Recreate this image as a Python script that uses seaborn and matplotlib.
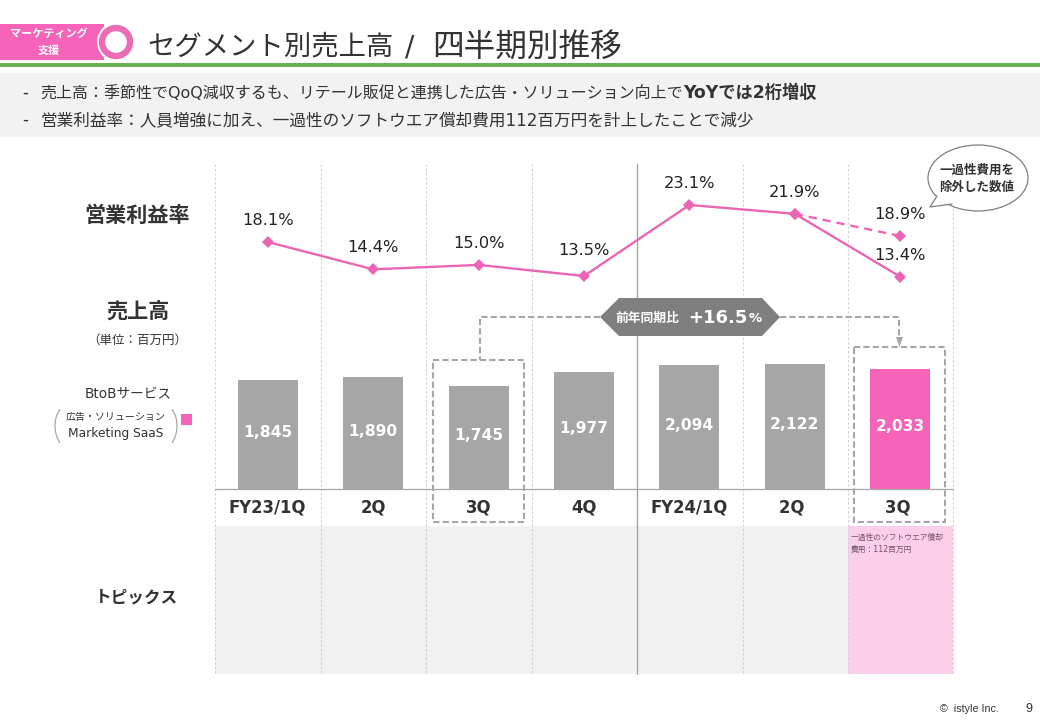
import matplotlib
matplotlib.use("Agg")
import matplotlib.pyplot as plt
from matplotlib.patches import Rectangle, Circle, Ellipse, Polygon, Arc
import pandas as pd
import seaborn as sns

periods = ["FY23/1Q", "2Q", "3Q", "4Q", "FY24/1Q", "2Q ", "3Q "]
sales = [1845, 1890, 1745, 1977, 2094, 2122, 2033]
margin = [18.1, 14.4, 15.0, 13.5, 23.1, 21.9, 13.4]
adj_periods = ["2Q ", "3Q "]
adj_margin = [21.9, 18.9]
bar_colors = ["#a6a6a6"] * 6 + ["#f564b8"]

sns.set_theme(style="white")
JP = ["DejaVu Sans", "Noto Sans CJK JP"]
plt.rcParams["font.family"] = JP
W, H = 1040, 720
PINK, LINE = "#f564b8", "#ea66b4"
DARK, GREY = "#333333", "#a6a6a6"

fig = plt.figure(figsize=(W / 100, H / 100), dpi=100, facecolor="white")

def pixel_axes(z):
    a = fig.add_axes([0, 0, 1, 1], zorder=z)
    a.set_xlim(0, W); a.set_ylim(H, 0); a.axis("off")
    a.patch.set_alpha(0)
    return a

bg = pixel_axes(0)
top = pixel_axes(5)

# backgrounds
bg.add_patch(Rectangle((0, 73), W, 64, color="#f2f2f2", lw=0))
bg.add_patch(Rectangle((0, 63), W, 4, color="#6aaf50", lw=0))
bg.add_patch(Rectangle((215, 526), 633, 148, color="#f1f1f1", lw=0))
bg.add_patch(Rectangle((848, 526), 105, 148, color="#fbcfe9", lw=0))
for x in [215, 321, 426, 532, 743, 848, 953]:
    bg.plot([x, x], [164, 674], color="#cfcfcf", lw=0.8, ls=(0, (2, 2)))
bg.plot([637, 637], [164, 674], color="#a6a6a6", lw=1)

# header
bg.add_patch(Rectangle((0, 24), 104, 36, color=PINK, lw=0))
bg.add_patch(Circle((117, 42), 20, color="white", lw=0))
bg.add_patch(Circle((116, 42), 14, facecolor="white", edgecolor="#ea6cb4", lw=4.6))
top.text(49, 34, "マーケティング", color="white", fontsize=8, fontweight="bold", ha="center", va="center")
top.text(49, 51, "支援", color="white", fontsize=8, fontweight="bold", ha="center", va="center")
top.text(147, 54, "セグメント別売上高", color=DARK, fontsize=19.7, ha="left", va="baseline")
top.text(410, 55, "/", color=DARK, fontsize=20, ha="center", va="baseline")
top.text(432, 57, "四半期別推移", color=DARK, fontsize=22.8, ha="left", va="baseline")

top.text(22, 93, "-", color=DARK, fontsize=12, ha="left", va="center")
top.text(22, 120, "-", color=DARK, fontsize=12, ha="left", va="center")
top.text(40, 93, "売上高：季節性でQoQ減収するも、リテール販促と連携した広告・ソリューション向上で",
         color=DARK, fontsize=11.5, ha="left", va="center")
top.text(683, 93, "YoYでは2桁増収", color=DARK, fontsize=12.4, fontweight="bold", ha="left", va="center")
top.text(40, 120, "営業利益率：人員増強に加え、一過性のソフトウエア償却費用112百万円を計上したことで減少",
         color=DARK, fontsize=11.97, ha="left", va="center")

# bars
ax = fig.add_axes([215 / W, 1 - 489 / H, 738 / W, 325 / H], zorder=1)
ax.patch.set_alpha(0)
df = pd.DataFrame({"period": periods, "sales": sales})
sns.barplot(data=df, x="period", y="sales", hue="period", palette=bar_colors,
            width=0.57, legend=False, saturation=1, linewidth=0, ax=ax)
ax.set_xlim(-0.5, 6.5)
ax.set_ylim(0, 325 / 0.059)
ax.set_xlabel(""); ax.set_ylabel(""); ax.set_yticks([])
ax.set_xticks(range(len(periods)))
ax.set_xticklabels(periods, fontsize=11.9, fontweight="bold", color=DARK, family="DejaVu Sans")
ax.tick_params(axis="x", length=0, pad=7)
sns.despine(ax=ax, left=True, right=True, top=True)
ax.spines["bottom"].set_color("#a6a6a6"); ax.spines["bottom"].set_linewidth(0.9)
for i, v in enumerate(sales):
    ax.annotate(f"{v:,}", (i, v / 2), xytext=(0, 1.5), textcoords="offset points", ha="center", va="center",
                color="white", fontsize=11.2, fontweight="bold", family="DejaVu Sans")

# margin lines
ax2 = ax.twinx()
ax2.set_zorder(2); ax2.patch.set_alpha(0)
ldf = pd.DataFrame({"period": periods, "margin": margin})
adf = pd.DataFrame({"period": adj_periods, "margin": adj_margin})
sns.lineplot(data=ldf, x="period", y="margin", color=LINE, lw=1.7, marker="D", markersize=6.5,
             markeredgewidth=0, sort=False, ax=ax2)
sns.lineplot(data=adf, x="period", y="margin", color=LINE, lw=1.7, marker="D", markersize=6.5,
             markeredgewidth=0, sort=False, ax=ax2, linestyle=(0, (3.5, 2.5)))
ax2.set_ylim(13.5 - 213 / 7.4, 13.5 + 112 / 7.4)
ax2.set_xlim(-0.5, 6.5)
ax2.axis("off")
label_lift = [15.5, 15.5, 15.5, 18.5, 15.5, 15.5, 15.5]
for i, v in enumerate(margin):
    ax2.annotate(f"{v:.1f}%", (i, v), xytext=(0, label_lift[i]), textcoords="offset points",
                 ha="center", va="center", fontsize=11.7, color="#222222", family="DejaVu Sans")
ax2.annotate(f"{adj_margin[1]:.1f}%", (6, adj_margin[1]), xytext=(0, 15.5), textcoords="offset points",
             ha="center", va="center", fontsize=11.7, color="#222222", family="DejaVu Sans")

# left labels
for x, y, s, kw in [
    (137, 216, "営業利益率", dict(fontsize=15.2, fontweight="bold")),
    (138, 313, "売上高", dict(fontsize=15.2, fontweight="bold")),
    (137, 340, "（単位：百万円）", dict(fontsize=9)),
    (128, 394, "BtoBサービス", dict(fontsize=9.8)),
    (116, 417, "広告・ソリューション", dict(fontsize=7.2)),
    (137, 597, "トピックス", dict(fontsize=12, fontweight="bold")),
    (116, 434, "Marketing SaaS", dict(fontsize=8.8)),
]:
    top.text(x, y, s, color=DARK, ha="center", va="center", **kw)
top.add_patch(Arc((68, 426), 26, 42, theta1=115, theta2=245, color="#a6a6a6", lw=0.9))
top.add_patch(Arc((164, 426), 26, 42, theta1=-65, theta2=65, color="#a6a6a6", lw=0.9))
top.add_patch(Rectangle((181, 414), 11, 11, color=PINK, lw=0))

# comparison annotation
dash = dict(color=GREY, lw=1.5, ls=(0, (3, 1.5)))
top.plot([600, 480, 480], [317, 317, 360], **dash)
top.plot([780, 899, 899], [317, 317, 338], **dash)
top.add_patch(Polygon([(896, 337), (903, 337), (899.5, 347)], color=GREY, lw=0))
top.add_patch(Rectangle((433, 360), 91, 162, fill=False, ec=GREY, lw=1.5, ls=(0, (3, 1.5))))
top.add_patch(Rectangle((854, 347), 91, 175, fill=False, ec=GREY, lw=1.5, ls=(0, (3, 1.5))))
top.add_patch(Polygon([(600, 317), (619, 298), (762, 298), (780, 317), (762, 336), (619, 336)],
                      color="#7f7f7f", lw=0))
top.text(647.5, 318, "前年同期比", color="white", fontsize=9.2, fontweight="bold", ha="center", va="center")
top.text(688, 318, "+16.5", color="white", fontsize=13, fontweight="bold", ha="left", va="center")
top.text(749, 319, "%", color="white", fontsize=9.5, fontweight="bold", ha="left", va="center")

# callout
top.add_patch(Ellipse((978, 178), 100, 66, fc="white", ec="#7f7f7f", lw=0.9))
top.add_patch(Polygon([(937, 196), (930, 207), (952, 205)], fc="white", ec="none", zorder=3))
top.plot([937, 930, 952], [196, 207, 204], color="#7f7f7f", lw=0.9, zorder=4)
top.text(977, 170, "一過性費用を", color=DARK, fontsize=9, fontweight="bold", ha="center", va="center", zorder=5)
top.text(977, 187, "除外した数値", color=DARK, fontsize=9, fontweight="bold", ha="center", va="center", zorder=5)

# topic note, footer
top.text(851, 537, "一過性のソフトウエア償却", color="#75506a", fontsize=5.6, ha="left", va="center")
top.text(851, 549, "費用：112百万円", color="#75506a", fontsize=5.6, ha="left", va="center")
top.text(940, 709, "©  istyle Inc.", color=DARK, fontsize=7.7, ha="left", va="center", family="Liberation Sans")
top.text(1029, 709, "9", color=DARK, fontsize=9, ha="center", va="center", family="Liberation Sans")

fig.savefig("out.png", dpi=100)
